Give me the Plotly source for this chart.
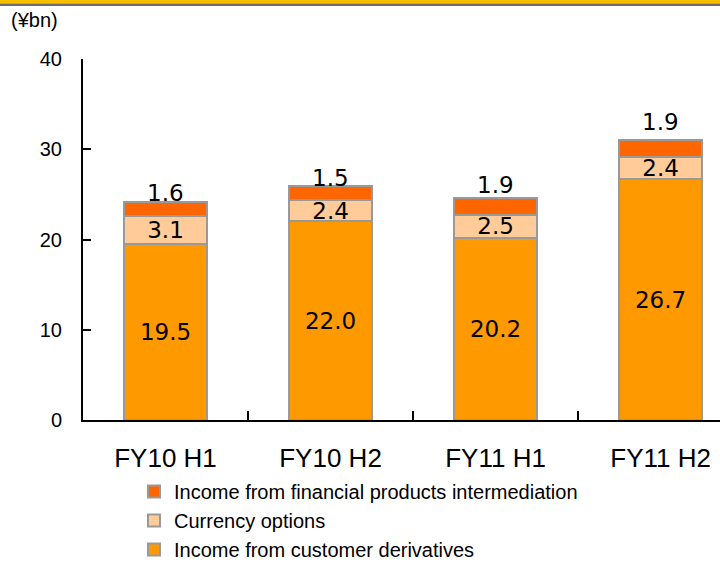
import plotly.graph_objects as go

categories = ["FY10 H1", "FY10 H2", "FY11 H1", "FY11 H2"]
customer_derivatives = [19.5, 22.0, 20.2, 26.7]
currency_options = [3.1, 2.4, 2.5, 2.4]
financial_intermediation = [1.6, 1.5, 1.9, 1.9]
series_names = [
    "Income from customer derivatives",
    "Currency options",
    "Income from financial products intermediation",
]
top_label_shift = [-6, -7, -2, 3]

W, H = 720, 564
L, R, T, B = 83, 0, 59, 144
plot_h = H - T - B
plot_w = W - L - R

label_font = dict(family="DejaVu Sans, Verdana, sans-serif", size=23, color="#000000")
axis_font_family = "Liberation Sans, Arial, sans-serif"

fig = go.Figure()
line = dict(color="#999999", width=2)
fig.add_bar(x=categories, y=customer_derivatives, name=series_names[0],
            marker=dict(color="#FF9900", line=line),
            text=[f"{v:.1f}" for v in customer_derivatives], textposition="inside",
            insidetextanchor="middle", textfont=label_font, width=0.5)
fig.add_bar(x=categories, y=currency_options, name=series_names[1],
            marker=dict(color="#FFCC99", line=line),
            text=[f"{v:.1f}" for v in currency_options], textposition="inside",
            insidetextanchor="middle", textfont=label_font, width=0.5,
            constraintext="none")
fig.add_bar(x=categories, y=financial_intermediation, name=series_names[2],
            marker=dict(color="#FF6600", line=line), width=0.5)

totals = [a + b + c for a, b, c in zip(customer_derivatives, currency_options, financial_intermediation)]
for cat, tot, v, s in zip(categories, totals, financial_intermediation, top_label_shift):
    fig.add_annotation(x=cat, y=tot, text=f"{v:.1f}", showarrow=False,
                       yanchor="bottom", yshift=s, font=label_font)

# y-axis unit label
fig.add_annotation(xref="paper", yref="paper", x=-(L - 9) / plot_w, y=1 + (T - 20) / plot_h,
                   text="(¥bn)", showarrow=False, xanchor="left", yanchor="middle",
                   font=dict(family=axis_font_family, size=20, color="#000000"))

# top decorative band
fig.add_shape(type="rect", xref="paper", yref="paper", x0=-0.2, x1=1.2,
              y0=1 + (T - 3.5) / plot_h, y1=1 + (T + 2) / plot_h, fillcolor="#F8C000", line_width=0)
fig.add_shape(type="rect", xref="paper", yref="paper", x0=-0.2, x1=1.2,
              y0=1 + (T - 6) / plot_h, y1=1 + (T - 3.5) / plot_h, fillcolor="#6E6E6E", line_width=0)

fig.update_layout(
    width=W, height=H,
    margin=dict(l=L, r=R, t=T, b=B, autoexpand=False),
    barmode="stack",
    plot_bgcolor="white", paper_bgcolor="white",
    legend=dict(orientation="v", traceorder="reversed", x=(134 - L) / plot_w,
                xanchor="left", y=-(472 - T - plot_h) / plot_h, yanchor="top",
                font=dict(family=axis_font_family, size=20, color="#000000"),
                bgcolor="rgba(0,0,0,0)", tracegroupgap=0, itemwidth=30),
    xaxis=dict(type="category", range=[-0.5, 3.36], showline=True, linecolor="#000000",
               linewidth=2, ticks="inside", tickson="boundaries", ticklen=9,
               tickcolor="#000000", tickwidth=2, showgrid=False,
               tickfont=dict(family=axis_font_family, size=26, color="#000000"),
               ticklabelstandoff=14),
    yaxis=dict(range=[0, 40], dtick=10, showline=True, linecolor="#000000", linewidth=2,
               ticks="inside", ticklen=8, tickcolor="#000000", tickwidth=2,
               showgrid=False, zeroline=False,
               tickfont=dict(family=axis_font_family, size=20, color="#000000"),
               ticklabelstandoff=15),
)

fig.write_html("out.html", config={"displayModeBar": False},
               post_script="document.body.style.margin='0px';")
